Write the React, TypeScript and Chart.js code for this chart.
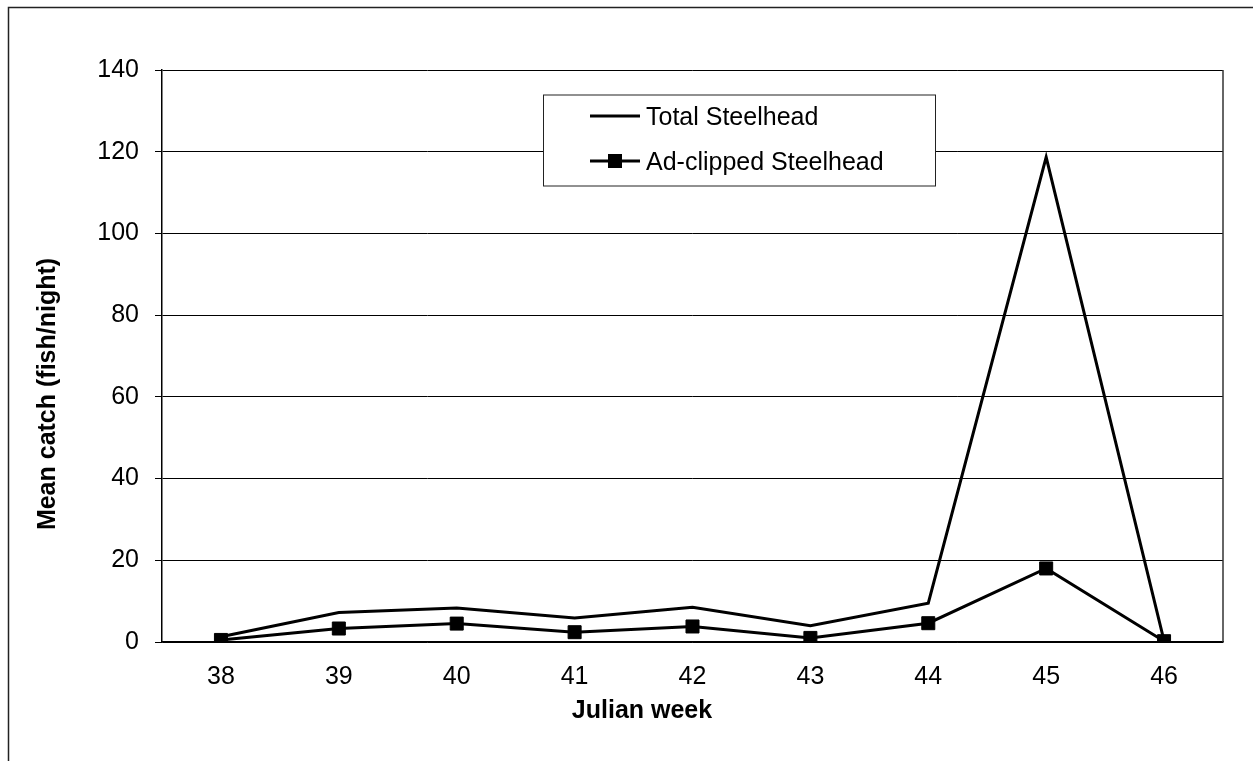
import React, { useEffect, useRef } from "react";
import { Chart, registerables } from "chart.js";

Chart.register(...registerables);

const weeks = ["38", "39", "40", "41", "42", "43", "44", "45", "46"];
const totalSteelhead = [1.3, 7.2, 8.3, 5.9, 8.5, 4.0, 9.5, 118.7, 0.3];
const adClippedSteelhead = [0.5, 3.3, 4.5, 2.4, 3.8, 1.0, 4.6, 18.0, 0.2];
const seriesLabels = ["Total Steelhead", "Ad-clipped Steelhead"];
const xTitle = "Julian week";
const yTitle = "Mean catch (fish/night)";

const FONT = "'Liberation Sans', Arial, sans-serif";

const framePlugin = {
  id: "frame",
  beforeDraw(chart: any) {
    const ctx = chart.ctx;
    ctx.save();
    ctx.fillStyle = "#fff";
    ctx.fillRect(0, 0, chart.width, chart.height);
    ctx.strokeStyle = "#222";
    ctx.lineWidth = 1.5;
    ctx.strokeRect(8.5, 7.5, 1300, 800);
    ctx.restore();
  },
  afterDraw(chart: any) {
    const ctx = chart.ctx;
    const a = chart.chartArea;
    ctx.save();
    // plot area right border
    ctx.strokeStyle = "#333";
    ctx.lineWidth = 1.5;
    ctx.beginPath();
    ctx.moveTo(a.right, a.top);
    ctx.lineTo(a.right, a.bottom);
    ctx.stroke();
    // axis titles
    ctx.fillStyle = "#000";
    ctx.font = `bold 25px ${FONT}`;
    ctx.textAlign = "center";
    ctx.textBaseline = "alphabetic";
    ctx.fillText(xTitle, 642, 718);
    ctx.save();
    ctx.translate(55, 394);
    ctx.rotate(-Math.PI / 2);
    ctx.fillText(yTitle, 0, 0);
    ctx.restore();
    // legend
    const bx = 543, by = 94.5, bw = 392, bh = 91;
    ctx.fillStyle = "#fff";
    ctx.fillRect(bx, by, bw, bh);
    ctx.strokeStyle = "#222";
    ctx.lineWidth = 1;
    ctx.strokeRect(bx + 0.5, by + 0.5, bw, bh);
    const rows = [116, 161];
    chart.data.datasets.forEach((ds: any, i: number) => {
      const y = rows[i];
      ctx.strokeStyle = ds.borderColor;
      ctx.lineWidth = ds.borderWidth;
      ctx.beginPath();
      ctx.moveTo(590, y);
      ctx.lineTo(640, y);
      ctx.stroke();
      if (ds.pointRadius > 0) {
        ctx.fillStyle = ds.pointBackgroundColor;
        ctx.fillRect(608, y - 7, 14, 14);
      }
      ctx.fillStyle = "#000";
      ctx.font = `25px ${FONT}`;
      ctx.textBaseline = "alphabetic";
      ctx.textAlign = "left";
      ctx.fillText(ds.label, 646, y + 9);
    });
    ctx.restore();
  },
};

export default function App() {
  const ref = useRef<HTMLCanvasElement | null>(null);
  useEffect(() => {
    if (!ref.current) return;
    const chart = new Chart(ref.current, {
      type: "line",
      data: {
        labels: weeks,
        datasets: [
          {
            label: seriesLabels[0],
            data: totalSteelhead,
            borderColor: "#000",
            backgroundColor: "#000",
            borderWidth: 3,
            pointRadius: 0,
            pointHoverRadius: 0,
            tension: 0,
          },
          {
            label: seriesLabels[1],
            data: adClippedSteelhead,
            borderColor: "#000",
            backgroundColor: "#000",
            pointBackgroundColor: "#000",
            pointBorderColor: "#000",
            borderWidth: 3,
            pointStyle: "rect",
            pointRadius: 9.2,
            pointBorderWidth: 1,
            tension: 0,
          },
        ],
      },
      options: {
        responsive: false,
        animation: false,
        devicePixelRatio: 1,
        layout: { padding: { left: 0, top: 70, right: 30, bottom: 0 } },
        plugins: {
          legend: { display: false },
          tooltip: { enabled: false },
        },
        scales: {
          x: {
            type: "category",
            offset: true,
            grid: { display: false, drawTicks: false },
            border: { display: true, color: "#000", width: 1.5 },
            ticks: {
              color: "#000",
              font: { family: FONT, size: 25 },
              padding: 20,
              maxRotation: 0,
              autoSkip: false,
            },
            afterFit(scale: any) {
              scale.height = 119;
            },
          },
          y: {
            min: 0,
            max: 140,
            grid: {
              color: "#000",
              lineWidth: 1,
              drawTicks: true,
              tickLength: 7,
            },
            border: { display: true, color: "#000", width: 1.5 },
            ticks: {
              stepSize: 20,
              color: "#000",
              font: { family: FONT, size: 25 },
              padding: 16,
            },
            afterFit(scale: any) {
              scale.width = 162;
            },
          },
        },
      },
      plugins: [framePlugin],
    });
    return () => chart.destroy();
  }, []);
  return (
    <div style={{ position: "absolute", left: 0, top: 0, width: 1253, height: 761, overflow: "hidden" }}>
      <canvas ref={ref} width={1253} height={761} style={{ display: "block" }} />
    </div>
  );
}
